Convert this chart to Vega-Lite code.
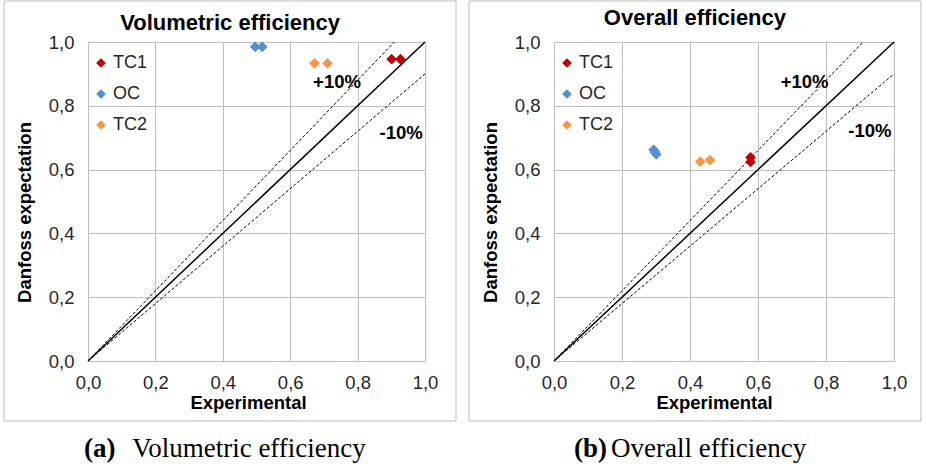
{
  "$schema": "https://vega.github.io/schema/vega-lite/v6.json",
  "padding": {"left": 3, "top": 0, "right": 3, "bottom": 0},
  "background": "white",
  "config": {
    "font": "Liberation Sans",
    "view": {"stroke": "#BFBFBF", "strokeWidth": 1},
    "axis": {
      "grid": true, "gridColor": "#BFBFBF", "gridWidth": 1,
      "domain": false, "ticks": false,
      "labelFont": "Liberation Sans", "labelFontSize": 18.5, "labelColor": "#262626",
      "titleFont": "Liberation Sans", "titleFontSize": 18.5, "titleFontWeight": "bold", "titleColor": "#000000",
      "labelFlush": false, "labelOverlap": false
    },
    "axisX": {"labelPadding": 12, "titlePadding": 2, "titleX": 160},
    "axisY": {"labelPadding": 14, "titlePadding": 14, "titleY": 170},
    "title": {"font": "Liberation Sans", "fontSize": 22, "fontWeight": "bold", "color": "#000000", "anchor": "middle", "frame": "bounds"},
    "legend": {
      "orient": "none", "legendX": 4, "legendY": 12, "title": null,
      "symbolType": "diamond", "symbolSize": 95, "symbolStrokeWidth": 0,
      "labelFont": "Liberation Sans", "labelFontSize": 18, "labelColor": "#262626",
      "rowPadding": 13, "labelOffset": 3
    },
    "concat": {"spacing": 10}
  },
  "resolve": {"scale": {"color": "independent"}, "legend": {"color": "independent"}},
  "datasets": {
    "one": [{"n": 1}],
    "points": [
      {"panel": "vol", "series": "TC1", "x": 0.901, "y": 0.946},
      {"panel": "vol", "series": "TC1", "x": 0.927, "y": 0.946},
      {"panel": "vol", "series": "OC", "x": 0.496, "y": 0.985},
      {"panel": "vol", "series": "OC", "x": 0.517, "y": 0.985},
      {"panel": "vol", "series": "TC2", "x": 0.672, "y": 0.933},
      {"panel": "vol", "series": "TC2", "x": 0.711, "y": 0.933},
      {"panel": "ove", "series": "TC1", "x": 0.578, "y": 0.638},
      {"panel": "ove", "series": "TC1", "x": 0.578, "y": 0.624},
      {"panel": "ove", "series": "OC", "x": 0.293, "y": 0.662},
      {"panel": "ove", "series": "OC", "x": 0.297, "y": 0.655},
      {"panel": "ove", "series": "OC", "x": 0.301, "y": 0.648},
      {"panel": "ove", "series": "TC2", "x": 0.430, "y": 0.625},
      {"panel": "ove", "series": "TC2", "x": 0.459, "y": 0.630}
    ],
    "lines": [
      {"k": "mid", "x": 0, "y": 0}, {"k": "mid", "x": 1, "y": 1},
      {"k": "hi", "x": 0, "y": 0}, {"k": "hi", "x": 0.909, "y": 1},
      {"k": "lo", "x": 0, "y": 0}, {"k": "lo", "x": 1, "y": 0.9}
    ],
    "notes": [
      {"panel": "vol", "label": "+10%", "x": 0.739, "y": 0.875},
      {"panel": "vol", "label": "-10%", "x": 0.929, "y": 0.716},
      {"panel": "ove", "label": "+10%", "x": 0.737, "y": 0.875},
      {"panel": "ove", "label": "-10%", "x": 0.929, "y": 0.72}
    ]
  },
  "hconcat": [
    {
      "width": 337, "height": 319,
      "title": {"text": "Volumetric efficiency", "offset": -34},
      "layer": [
        {
          "data": {"name": "points"},
          "transform": [{"filter": "datum.panel === 'vol'"}],
          "mark": {"type": "point", "shape": "diamond", "filled": true, "size": 105, "opacity": 1},
          "encoding": {
            "x": {"field": "x", "type": "quantitative", "title": "Experimental", "scale": {"domain": [0, 1]}, "axis": {"values": [0, 0.2, 0.4, 0.6, 0.8, 1], "labelExpr": "replace(format(datum.value, '.1f'), '.', ',')"}},
            "y": {"field": "y", "type": "quantitative", "title": "Danfoss expectation", "scale": {"domain": [0, 1]}, "axis": {"values": [0, 0.2, 0.4, 0.6, 0.8, 1], "labelExpr": "replace(format(datum.value, '.1f'), '.', ',')"}},
            "color": {"field": "series", "type": "nominal", "scale": {"domain": ["TC1", "OC", "TC2"], "range": ["#C00000", "#558ED5", "#F79646"]}}
          }
        },
        {
          "data": {"name": "one"},
          "mark": {"type": "rect", "fill": null, "stroke": "#BFBFBF", "strokeWidth": 1},
          "encoding": {
            "x": {"datum": -0.249, "type": "quantitative", "title": "Experimental"},
            "x2": {"datum": 1.092},
            "y": {"datum": -0.188, "type": "quantitative", "title": "Danfoss expectation"},
            "y2": {"datum": 1.1285}
          }
        },
        {
          "data": {"name": "lines"},
          "transform": [{"filter": "datum.k !== 'mid'"}],
          "mark": {"type": "line", "color": "#000000", "strokeWidth": 1, "strokeDash": [3, 2]},
          "encoding": {
            "x": {"field": "x", "type": "quantitative", "title": "Experimental"},
            "y": {"field": "y", "type": "quantitative", "title": "Danfoss expectation"},
            "detail": {"field": "k"}
          }
        },
        {
          "data": {"name": "lines"},
          "transform": [{"filter": "datum.k === 'mid'"}],
          "mark": {"type": "line", "color": "#000000", "strokeWidth": 1.5},
          "encoding": {
            "x": {"field": "x", "type": "quantitative", "title": "Experimental"},
            "y": {"field": "y", "type": "quantitative", "title": "Danfoss expectation"}
          }
        },
        {
          "data": {"name": "points"},
          "transform": [{"filter": "datum.panel === 'vol'"}],
          "mark": {"type": "point", "shape": "diamond", "filled": true, "size": 105, "opacity": 1},
          "encoding": {
            "x": {"field": "x", "type": "quantitative", "title": "Experimental"},
            "y": {"field": "y", "type": "quantitative", "title": "Danfoss expectation"},
            "color": {"field": "series", "type": "nominal"}
          }
        },
        {
          "data": {"name": "notes"},
          "transform": [{"filter": "datum.panel === 'vol'"}],
          "mark": {"type": "text", "font": "Liberation Sans", "fontSize": 18.5, "fontWeight": "bold", "color": "#000000", "align": "center", "baseline": "middle"},
          "encoding": {
            "x": {"field": "x", "type": "quantitative", "title": "Experimental"},
            "y": {"field": "y", "type": "quantitative", "title": "Danfoss expectation"},
            "text": {"field": "label"}
          }
        },
        {
          "data": {"name": "one"},
          "mark": {"type": "text", "font": "Liberation Serif", "fontSize": 27, "fontWeight": "bold", "color": "#000000", "align": "left", "baseline": "alphabetic"},
          "encoding": {
            "x": {"datum": -0.012, "type": "quantitative", "title": "Experimental"},
            "y": {"datum": -0.301, "type": "quantitative", "title": "Danfoss expectation"},
            "text": {"value": "(a)"}
          }
        },
        {
          "data": {"name": "one"},
          "mark": {"type": "text", "font": "Liberation Serif", "fontSize": 27, "color": "#000000", "align": "left", "baseline": "alphabetic"},
          "encoding": {
            "x": {"datum": 0.131, "type": "quantitative", "title": "Experimental"},
            "y": {"datum": -0.301, "type": "quantitative", "title": "Danfoss expectation"},
            "text": {"value": "Volumetric efficiency"}
          }
        }
      ]
    },
    {
      "width": 340, "height": 319,
      "title": {"text": "Overall efficiency", "offset": -29},
      "layer": [
        {
          "data": {"name": "points"},
          "transform": [{"filter": "datum.panel === 'ove'"}],
          "mark": {"type": "point", "shape": "diamond", "filled": true, "size": 105, "opacity": 1},
          "encoding": {
            "x": {"field": "x", "type": "quantitative", "title": "Experimental", "scale": {"domain": [0, 1]}, "axis": {"values": [0, 0.2, 0.4, 0.6, 0.8, 1], "labelExpr": "replace(format(datum.value, '.1f'), '.', ',')"}},
            "y": {"field": "y", "type": "quantitative", "title": "Danfoss expectation", "scale": {"domain": [0, 1]}, "axis": {"values": [0, 0.2, 0.4, 0.6, 0.8, 1], "labelExpr": "replace(format(datum.value, '.1f'), '.', ',')"}},
            "color": {"field": "series", "type": "nominal", "scale": {"domain": ["TC1", "OC", "TC2"], "range": ["#C00000", "#558ED5", "#F79646"]}}
          }
        },
        {
          "data": {"name": "one"},
          "mark": {"type": "rect", "fill": null, "stroke": "#BFBFBF", "strokeWidth": 1},
          "encoding": {
            "x": {"datum": -0.25, "type": "quantitative", "title": "Experimental"},
            "x2": {"datum": 1.079},
            "y": {"datum": -0.188, "type": "quantitative", "title": "Danfoss expectation"},
            "y2": {"datum": 1.1285}
          }
        },
        {
          "data": {"name": "lines"},
          "transform": [{"filter": "datum.k !== 'mid'"}],
          "mark": {"type": "line", "color": "#000000", "strokeWidth": 1, "strokeDash": [3, 2]},
          "encoding": {
            "x": {"field": "x", "type": "quantitative", "title": "Experimental"},
            "y": {"field": "y", "type": "quantitative", "title": "Danfoss expectation"},
            "detail": {"field": "k"}
          }
        },
        {
          "data": {"name": "lines"},
          "transform": [{"filter": "datum.k === 'mid'"}],
          "mark": {"type": "line", "color": "#000000", "strokeWidth": 1.5},
          "encoding": {
            "x": {"field": "x", "type": "quantitative", "title": "Experimental"},
            "y": {"field": "y", "type": "quantitative", "title": "Danfoss expectation"}
          }
        },
        {
          "data": {"name": "points"},
          "transform": [{"filter": "datum.panel === 'ove'"}],
          "mark": {"type": "point", "shape": "diamond", "filled": true, "size": 105, "opacity": 1},
          "encoding": {
            "x": {"field": "x", "type": "quantitative", "title": "Experimental"},
            "y": {"field": "y", "type": "quantitative", "title": "Danfoss expectation"},
            "color": {"field": "series", "type": "nominal"}
          }
        },
        {
          "data": {"name": "notes"},
          "transform": [{"filter": "datum.panel === 'ove'"}],
          "mark": {"type": "text", "font": "Liberation Sans", "fontSize": 18.5, "fontWeight": "bold", "color": "#000000", "align": "center", "baseline": "middle"},
          "encoding": {
            "x": {"field": "x", "type": "quantitative", "title": "Experimental"},
            "y": {"field": "y", "type": "quantitative", "title": "Danfoss expectation"},
            "text": {"field": "label"}
          }
        },
        {
          "data": {"name": "one"},
          "mark": {"type": "text", "font": "Liberation Serif", "fontSize": 27, "fontWeight": "bold", "color": "#000000", "align": "left", "baseline": "alphabetic"},
          "encoding": {
            "x": {"datum": 0.059, "type": "quantitative", "title": "Experimental"},
            "y": {"datum": -0.301, "type": "quantitative", "title": "Danfoss expectation"},
            "text": {"value": "(b)"}
          }
        },
        {
          "data": {"name": "one"},
          "mark": {"type": "text", "font": "Liberation Serif", "fontSize": 27, "color": "#000000", "align": "left", "baseline": "alphabetic"},
          "encoding": {
            "x": {"datum": 0.168, "type": "quantitative", "title": "Experimental"},
            "y": {"datum": -0.301, "type": "quantitative", "title": "Danfoss expectation"},
            "text": {"value": "Overall efficiency"}
          }
        }
      ]
    }
  ]
}
